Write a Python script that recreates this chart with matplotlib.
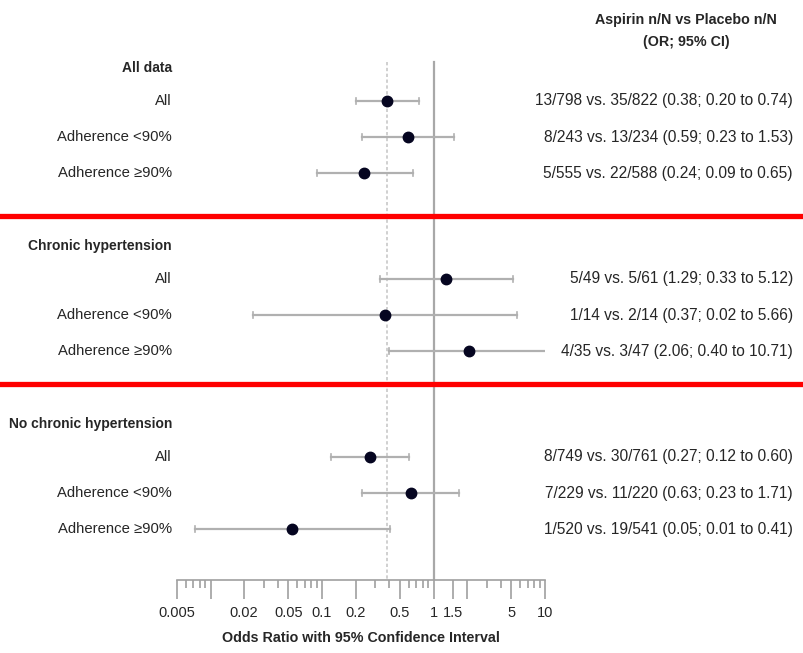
import numpy as np
import matplotlib.pyplot as plt
from matplotlib.ticker import FixedLocator, NullFormatter

plt.rcParams['font.family'] = ['Liberation Sans', 'DejaVu Sans']

# Datos
groups = ['All data', 'Chronic hypertension', 'No chronic hypertension']
subgroups = ['All', 'Adherence <90%', 'Adherence ≥90%']
counts = [
    ['13/798 vs. 35/822', '8/243 vs. 13/234', '5/555 vs. 22/588'],
    ['5/49 vs. 5/61', '1/14 vs. 2/14', '4/35 vs. 3/47'],
    ['8/749 vs. 30/761', '7/229 vs. 11/220', '1/520 vs. 19/541'],
]
odds = [[0.38, 0.59, 0.24], [1.29, 0.37, 2.06], [0.27, 0.63, 0.054]]
ci_low = [[0.20, 0.23, 0.09], [0.33, 0.024, 0.40], [0.12, 0.23, 0.0073]]
ci_high = [[0.74, 1.53, 0.65], [5.12, 5.66, 10.71], [0.60, 1.71, 0.41]]
ref_or = 0.38  # OR global (línea discontinua)

tick_vals = [0.005, 0.01, 0.02, 0.05, 0.1, 0.2, 0.5, 1, 1.5, 2, 5, 10]
tick_text = ['0.005', '', '0.02', '0.05', '0.1', '0.2', '0.5', '1', '1.5', '', '5', '10']

W, H = 804, 653
fig = plt.figure(figsize=(W / 100, H / 100), dpi=100)

# ejes en píxeles verticales: y crece hacia abajo
x0, x1, y_axis = 177, 545, 580
ax = fig.add_axes([x0 / W, (H - y_axis) / H, (x1 - x0) / W, y_axis / H])
ax.set_xscale('log')
ax.set_xlim(0.005, 10)
ax.set_ylim(y_axis, 0)

txt = '#262626'
gris = '#b0b0b0'

header_y = [68 + 178 * g for g in range(3)]
for g, grp in enumerate(groups):
    hy = header_y[g]
    fig.text(172 / W, 1 - hy / H, grp, ha='right', va='center',
             fontsize=10, fontweight='bold', color=txt)
    for k, sub in enumerate(subgroups):
        y = hy + 33 + 36.2 * k
        ax.plot([ci_low[g][k], ci_high[g][k]], [y, y], color=gris, lw=1.6, zorder=2)
        ax.plot([ci_low[g][k]] * 2, [y - 3, y + 3], color=gris, lw=1.2, zorder=2)
        ax.plot([ci_high[g][k]] * 2, [y - 3, y + 3], color=gris, lw=1.2, zorder=2)
        ax.plot(odds[g][k], y, 'o', ms=7.5, color='#050520', zorder=3)
        fig.text(172 / W, 1 - y / H, sub, ha='right', va='center',
                 fontsize=10.7, color=txt)
        lab = f'{counts[g][k]} ({odds[g][k]:.2f}; {ci_low[g][k]:.2f} to {ci_high[g][k]:.2f})'
        fig.text(793 / W, 1 - y / H, lab, ha='right', va='center',
                 fontsize=11.2, color=txt)

# líneas verticales de referencia
ax.plot([1, 1], [62, y_axis], color='#a8a8a8', lw=1.6, zorder=1)
ax.plot([ref_or, ref_or], [62, y_axis], color='#c8c8c8', lw=1.2, ls=(0, (2, 1.5)), zorder=1)

# separadores rojos
for sy in [216, 384]:
    fig.add_artist(plt.Line2D([0, 1], [1 - sy / H, 1 - sy / H], color='red', lw=3.8))

fig.text(686 / W, 1 - 20 / H, 'Aspirin n/N vs Placebo n/N', ha='center', va='center',
         fontsize=10.3, fontweight='bold', color=txt)
fig.text(686 / W, 1 - 42 / H, '(OR; 95% CI)', ha='center', va='center',
         fontsize=10.3, fontweight='bold', color=txt)

# eje x
for s in ['top', 'right', 'left']:
    ax.spines[s].set_visible(False)
ax.spines['bottom'].set_color('#a0a0a0')
ax.spines['bottom'].set_linewidth(1.2)
ax.set_yticks([])
ax.xaxis.set_major_locator(FixedLocator(tick_vals))
ax.set_xticklabels(tick_text)
minor = [m * 10.0 ** e for e in range(-3, 1) for m in [3, 4, 6, 7, 8, 9]]
ax.xaxis.set_minor_locator(FixedLocator([v for v in minor if 0.005 < v < 10]))
ax.xaxis.set_minor_formatter(NullFormatter())
ax.tick_params(axis='x', which='major', length=14, width=1.2, color='#a0a0a0',
               labelsize=10.5, labelcolor=txt, pad=5)
ax.tick_params(axis='x', which='minor', length=6, width=1.2, color='#a0a0a0')
ax.set_xlabel('Odds Ratio with 95% Confidence Interval', fontsize=10.3,
              fontweight='bold', color=txt, labelpad=8)

fig.savefig('out.png', dpi=100)
